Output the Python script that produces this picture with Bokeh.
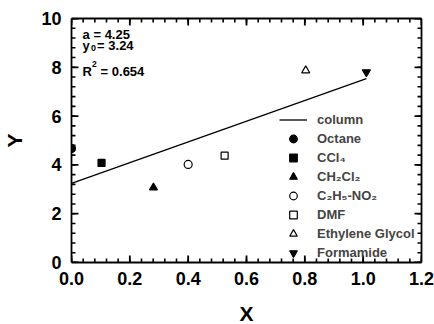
import numpy as np
from bokeh.plotting import figure
from bokeh.models import LinearAxis, Legend, LegendItem, Label, Range1d, ColumnDataSource, FixedTicker
from bokeh.embed import file_html
from bokeh.resources import INLINE

# ---- data ----
solvents = ["Octane", "CCl₄", "CH₂Cl₂", "C₂H₅-NO₂", "DMF", "Ethylene Glycol", "Formamide"]
x_vals = [0.0, 0.103, 0.281, 0.400, 0.525, 0.803, 1.011]
y_vals = [4.67, 4.08, 3.07, 4.02, 4.38, 7.87, 7.80]
fit_a = 4.25
fit_y0 = 3.24
fit_r2 = 0.654
x_ticks = [0.0, 0.2, 0.4, 0.6, 0.8, 1.0, 1.2]
y_ticks = [0, 2, 4, 6, 8, 10]

markers = ["circle", "square", "triangle", "circle", "square", "triangle", "inverted_triangle"]
fills = ["black", "black", "black", "white", "white", "white", "black"]
sizes = [8, 7, 8, 8, 7, 8, 8]

FONT = "Liberation Sans"
FW, FH = 350, 244

x_minor = [round(v, 3) for v in np.arange(x_ticks[0], x_ticks[-1] + 1e-9, (x_ticks[1] - x_ticks[0]) / 5)]
y_minor = [round(v, 3) for v in np.arange(y_ticks[0], y_ticks[-1] + 1e-9, (y_ticks[1] - y_ticks[0]) / 5)]
x_lo, x_hi = x_ticks[0], x_ticks[-1]
y_lo, y_hi = y_ticks[0], y_ticks[-1]

p = figure(width=434, height=324, output_backend="svg", toolbar_location=None,
           x_range=Range1d(x_lo, x_hi), y_range=Range1d(y_lo, y_hi),
           frame_width=FW, frame_height=FH,
           min_border_left=70, min_border_right=14, min_border_top=18, min_border_bottom=62)
p.outline_line_color = None
p.grid.visible = False
p.background_fill_color = "white"

# inward ticks drawn as short segments (pixel lengths converted to data units)
px_x = (x_hi - x_lo) / FW
px_y = (y_hi - y_lo) / FH

def tick_set(vals, length, width, axis, color="black"):
    n = len(vals)
    if axis == "x":
        xs0, ys0, xs1, ys1 = vals, [y_lo] * n, vals, [y_lo + length * px_y] * n
        xs2, ys2, xs3, ys3 = vals, [y_hi] * n, vals, [y_hi - length * px_y] * n
    else:
        xs0, ys0, xs1, ys1 = [x_lo] * n, vals, [x_lo + length * px_x] * n, vals
        xs2, ys2, xs3, ys3 = [x_hi] * n, vals, [x_hi - length * px_x] * n, vals
    p.segment(x0=list(xs0) + list(xs2), y0=list(ys0) + list(ys2),
              x1=list(xs1) + list(xs3), y1=list(ys1) + list(ys3),
              line_color=color, line_width=width)

tick_set(x_minor, 4, 1.6, "x")
tick_set(x_ticks, 7, 1.8, "x")
tick_set(y_minor, 4, 1.6, "y")
tick_set(y_ticks, 7, 1.8, "y")

# fit line
fx = [0.0, max(x_vals)]
fy = [fit_y0 + fit_a * v for v in fx]
line_r = p.line(fx, fy, line_color="black", line_width=1.3)

items = [LegendItem(label="column", renderers=[line_r])]
for i, name in enumerate(solvents):
    src = ColumnDataSource(dict(x=[x_vals[i]], y=[y_vals[i]]))
    r = p.scatter("x", "y", source=src, marker=markers[i], size=sizes[i],
                  fill_color=fills[i], line_color="black", line_width=1.2)
    items.append(LegendItem(label=name, renderers=[r]))

def style_axis(ax, labels=True):
    ax.axis_line_width = 1.8
    ax.axis_line_color = "black"
    ax.major_tick_in = 0
    ax.major_tick_out = 0
    ax.minor_tick_in = 0
    ax.minor_tick_out = 0
    ax.major_label_text_font = FONT
    ax.major_label_text_font_style = "bold"
    ax.major_label_text_font_size = "18px"
    ax.major_label_text_color = "black"
    ax.axis_label_text_font = FONT
    ax.axis_label_text_font_style = "bold"
    ax.axis_label_text_font_size = "21px"
    ax.axis_label_text_color = "black"
    if not labels:
        ax.major_label_text_font_size = "0px"
        ax.major_label_text_alpha = 0
        ax.major_label_standoff = 0

xa = p.xaxis[0]
ya = p.yaxis[0]
style_axis(xa)
style_axis(ya)
xa.ticker = FixedTicker(ticks=x_ticks)
ya.ticker = FixedTicker(ticks=y_ticks)
xa.major_label_overrides = {v: f"{v:.1f}" for v in x_ticks}
xa.axis_label = "X"
ya.axis_label = "Y"
xa.major_label_standoff = 9
ya.major_label_standoff = 10
xa.axis_label_standoff = 14
ya.axis_label_standoff = 12

top = LinearAxis(ticker=FixedTicker(ticks=x_ticks))
style_axis(top, labels=False)
right = LinearAxis(ticker=FixedTicker(ticks=y_ticks))
style_axis(right, labels=False)
p.add_layout(top, "above")
p.add_layout(right, "right")

# fit annotations (with real sub/superscripts)
def lab(x, y, text, size="13px", xo=0, yo=0):
    p.add_layout(Label(x=x, y=y, x_offset=xo, y_offset=yo, text=text, text_font=FONT,
                       text_font_style="bold", text_font_size=size,
                       text_baseline="alphabetic", text_color="black"))

ax0 = 0.038
lab(ax0, 9.34, "a = %.2f" % fit_a)
lab(ax0, 8.88, "y")
lab(ax0, 8.88, "0", size="9px", xo=8.5, yo=-2.5)
lab(ax0, 8.88, " = %.2f" % fit_y0, xo=14.5)
lab(ax0, 7.82, "R")
lab(ax0, 7.82, "2", size="8.5px", xo=9.5, yo=8)
lab(ax0, 7.82, " = %.3f" % fit_r2, xo=18)

legend = Legend(items=items, location=(208, 0), glyph_width=28, glyph_height=19,
                label_height=19, spacing=0, padding=0, margin=0, label_standoff=10,
                label_text_font=FONT, label_text_font_style="bold",
                label_text_font_size="13px", border_line_color=None,
                background_fill_alpha=0)
p.add_layout(legend, "center")

open("out.html", "w").write(file_html(p, INLINE))
